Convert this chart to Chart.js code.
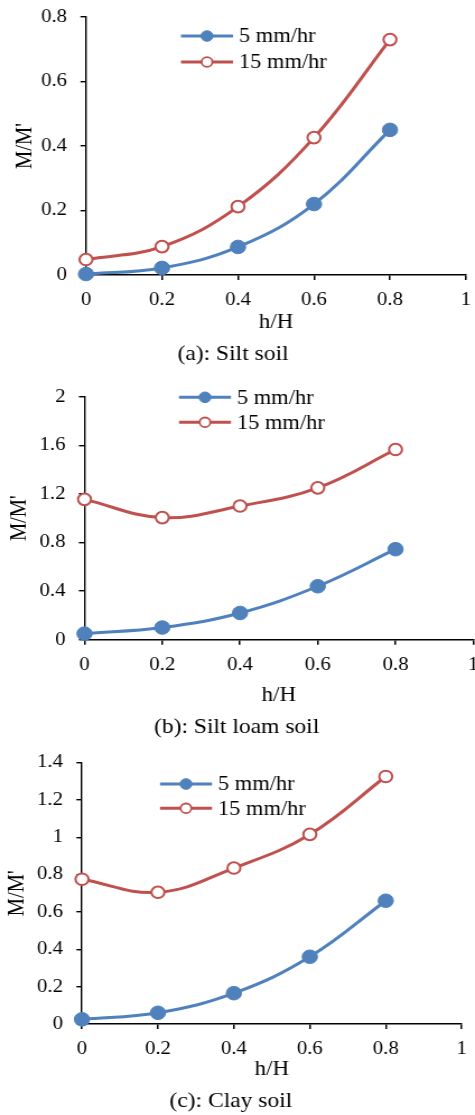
<!DOCTYPE html>
<html lang="en">
	<head>
		<meta charset="UTF-8" />
		<title>M/M' vs h/H</title>
		<style>
			body {
				margin: 0;
				padding: 0;
				background: #fff;
				width: 475px;
				height: 1115px;
				position: relative;
				overflow: hidden;
			}
			.panel {
				position: absolute;
				left: 0;
			}
			canvas {
				display: block;
			}
		</style>
		<script src="https://cdn.jsdelivr.net/npm/chart.js"></script>
	</head>
	<body>
		<div class="panel" style="top: 0px"><canvas id="silt"></canvas></div>
		<div class="panel" style="top: 368px"><canvas id="loam"></canvas></div>
		<div class="panel" style="top: 740px"><canvas id="clay"></canvas></div>
		<script>
			// data
			const hH = [0, 0.2, 0.4, 0.6, 0.8];
			const seriesNames = ["5 mm/hr", "15 mm/hr"];
			const xTicks = [0, 0.2, 0.4, 0.6, 0.8, 1];

			const siltLow = [0.003, 0.022, 0.087, 0.22, 0.45];
			const siltHigh = [0.048, 0.088, 0.212, 0.426, 0.73];
			const siltTicks = [0, 0.2, 0.4, 0.6, 0.8];

			const loamLow = [0.05, 0.1, 0.22, 0.44, 0.745];
			const loamHigh = [1.155, 1.005, 1.1, 1.25, 1.565];
			const loamTicks = [0, 0.4, 0.8, 1.2, 1.6, 2];

			const clayLow = [0.025, 0.06, 0.165, 0.36, 0.66];
			const clayHigh = [0.775, 0.705, 0.835, 1.015, 1.325];
			const clayTicks = [0, 0.2, 0.4, 0.6, 0.8, 1, 1.2, 1.4];

			const captions = ["(a): Silt soil", "(b): Silt loam soil", "(c): Clay soil"];

			const BLUE = "#4f81bd";
			const RED = "#c0504d";
			const FONT = "'Liberation Serif', 'Times New Roman', serif";

			// the original figure is a little wider than tall, so draw narrow and stretch
			const PAGE_W = 475;
			const CANVAS_W = 424;
			const S = PAGE_W / CANVAS_W;

			const TICK_SIZE = 18.5;
			const AXIS_SIZE = 20.5;
			const CAP_SIZE = 21;
			const LEG_SIZE = 20;

			// legend drawn inside the plot, line + marker like Excel
			const insideLegend = {
				id: "insideLegend",
				afterDraw(chart, args, opts) {
					const ctx = chart.ctx;
					const x0 = opts.x / S;
					const len = 52 / S;
					ctx.save();
					chart.data.datasets.forEach((ds, i) => {
						const y = opts.y + i * opts.gap;
						ctx.strokeStyle = ds.borderColor;
						ctx.lineWidth = 3;
						ctx.beginPath();
						ctx.moveTo(x0, y);
						ctx.lineTo(x0 + len, y);
						ctx.stroke();
						ctx.beginPath();
						ctx.arc(x0 + len / 2, y, i === 0 ? 5.3 : 4.8, 0, Math.PI * 2);
						ctx.fillStyle = ds.pointBackgroundColor;
						ctx.fill();
						ctx.lineWidth = i === 0 ? 1 : 1.8;
						ctx.strokeStyle = ds.pointBorderColor;
						ctx.stroke();
						ctx.fillStyle = "#000";
						ctx.font = LEG_SIZE + "px " + FONT;
						ctx.textBaseline = "middle";
						ctx.textAlign = "left";
						ctx.fillText(ds.label, opts.textX / S, y + 1);
					});
					ctx.restore();
				},
			};

			function makeChart(id, low, high, yTicks, caption, box, legend) {
				const canvas = document.getElementById(id);
				canvas.width = CANVAS_W;
				canvas.height = box.h;
				canvas.style.width = PAGE_W + "px";
				canvas.style.height = box.h + "px";

				const capHalf = (CAP_SIZE * 1.2) / 2;
				const axisHalf = (AXIS_SIZE * 1.2) / 2;
				const capPad = box.h - box.cap - capHalf;
				const xBottom = box.h - (capHalf * 2 + capPad);
				const xHeight = xBottom - box.plotBottom;
				const hHPad = xBottom - box.hH - axisHalf;

				new Chart(canvas, {
					type: "line",
					data: {
						datasets: [
							{
								label: seriesNames[0],
								data: hH.map((x, i) => ({ x: x, y: low[i] })),
								borderColor: BLUE,
								borderWidth: 3,
								pointRadius: 6.8,
								pointBackgroundColor: BLUE,
								pointBorderColor: BLUE,
								pointBorderWidth: 1,
								tension: 0.4,
								clip: false,
							},
							{
								label: seriesNames[1],
								data: hH.map((x, i) => ({ x: x, y: high[i] })),
								borderColor: RED,
								borderWidth: 3,
								pointRadius: 5.8,
								pointBackgroundColor: "#fff",
								pointBorderColor: RED,
								pointBorderWidth: 2,
								tension: 0.4,
								clip: false,
							},
						],
					},
					options: {
						responsive: false,
						animation: false,
						events: [],
						layout: {
							autoPadding: false,
							padding: { top: box.plotTop, right: (PAGE_W - box.right) / S, left: 0, bottom: 0 },
						},
						scales: {
							x: {
								type: "linear",
								min: xTicks[0],
								max: xTicks[xTicks.length - 1],
								afterBuildTicks: (s) => {
									s.ticks = xTicks.map((v) => ({ value: v }));
								},
								afterFit: (s) => {
									s.height = xHeight;
									s.paddingLeft = 0;
									s.paddingRight = 0;
								},
								grid: { drawOnChartArea: false, color: "#000", lineWidth: 1.5, tickLength: 5 },
								border: { color: "#000", width: 1.5 },
								ticks: {
									color: "#000",
									padding: 9.5,
									maxRotation: 0,
									autoSkip: false,
									font: { family: FONT, size: TICK_SIZE },
									callback: (v) => String(v),
								},
								title: {
									display: true,
									text: "h/H",
									color: "#000",
									padding: { top: 0, bottom: hHPad },
									font: { family: FONT, size: AXIS_SIZE, lineHeight: 1.2 },
								},
							},
							y: {
								min: yTicks[0],
								max: yTicks[yTicks.length - 1],
								afterBuildTicks: (s) => {
									s.ticks = yTicks.map((v) => ({ value: v }));
								},
								afterFit: (s) => {
									s.width = box.left / S;
									s.paddingTop = 0;
									s.paddingBottom = 0;
								},
								grid: { drawOnChartArea: false, color: "#000", lineWidth: 1.4, tickLength: 5 },
								border: { color: "#000", width: 1.4 },
								ticks: {
									color: "#000",
									padding: 12,
									autoSkip: false,
									font: { family: FONT, size: TICK_SIZE },
									callback: (v) => String(v),
								},
								title: {
									display: true,
									text: "M/M'",
									color: "#000",
									padding: { top: box.yTitle / S - axisHalf, bottom: 0 },
									font: { family: FONT, size: AXIS_SIZE, lineHeight: 1.2 },
								},
							},
						},
						plugins: {
							legend: { display: false },
							tooltip: { enabled: false },
							title: {
								display: true,
								position: "bottom",
								text: caption,
								color: "#000",
								padding: { top: 0, bottom: capPad },
								font: { family: FONT, size: CAP_SIZE, weight: "normal", lineHeight: 1.2 },
							},
							insideLegend: legend,
						},
					},
					plugins: [insideLegend],
				});
			}

			makeChart("silt", siltLow, siltHigh, siltTicks, captions[0],
				{ h: 368, left: 86, right: 466, plotTop: 17, plotBottom: 275, hH: 323, cap: 354, yTitle: 25 },
				{ x: 181, y: 36, gap: 26, textX: 239 });
			makeChart("loam", loamLow, loamHigh, loamTicks, captions[1],
				{ h: 372, left: 84.5, right: 473.3, plotTop: 28.7, plotBottom: 271.7, hH: 327.5, cap: 359.5, yTitle: 20 },
				{ x: 179, y: 29.3, gap: 25, textX: 237 });
			makeChart("clay", clayLow, clayHigh, clayTicks, captions[2],
				{ h: 375, left: 82, right: 461.7, plotTop: 22.5, plotBottom: 284, hH: 330, cap: 361, yTitle: 17 },
				{ x: 160, y: 44, gap: 24.3, textX: 218 });
		</script>
	</body>
</html>
